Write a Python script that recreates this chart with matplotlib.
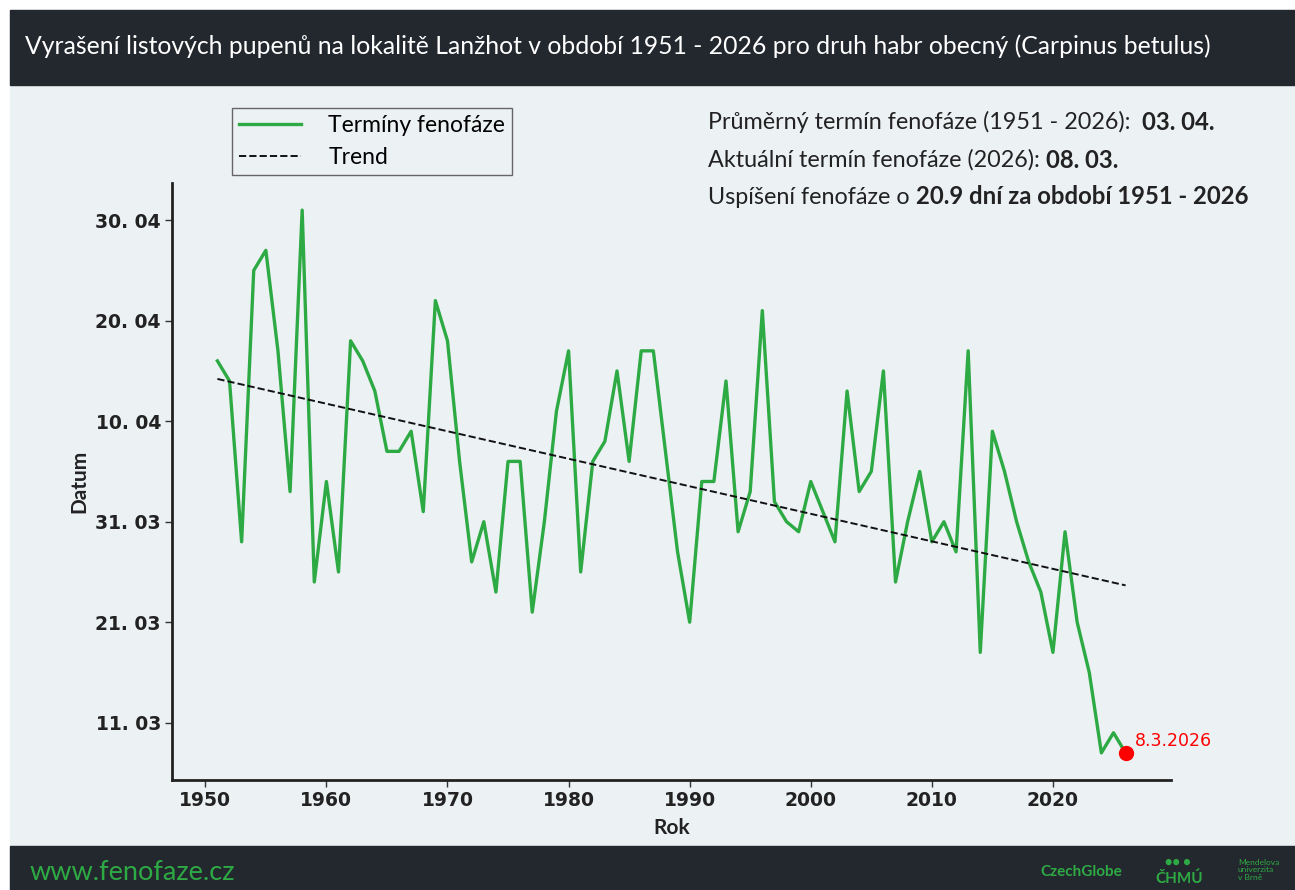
import matplotlib.pyplot as plt
import matplotlib.patches as patches
import numpy as np

plt.rcParams['font.family'] = ['Lato', 'DejaVu Sans']

# den v roce (nepřestupný rok) pro termín vyrašení
roky = list(range(1951, 2027))
dny = [106, 104, 88, 115, 117, 107, 93, 121, 84, 94,
       85, 108, 106, 103, 97, 97, 99, 91, 112, 108,
       96, 86, 90, 83, 96, 96, 81, 90, 101, 107,
       85, 96, 98, 105, 96, 107, 107, 97, 87, 80,
       94, 94, 104, 89, 93, 111, 92, 90, 89, 94,
       91, 88, 103, 93, 95, 105, 84, 90, 95, 88,
       90, 87, 107, 77, 99, 95, 90, 86, 83, 77,
       89, 80, 75, 67, 69, 67]
ytick_dny = [70, 80, 90, 100, 110, 120]
ytick_labels = ['11. 03', '21. 03', '31. 03', '10. 04', '20. 04', '30. 04']
xticks = [1950, 1960, 1970, 1980, 1990, 2000, 2010, 2020]

prumer = '03. 04.'
aktualni = '08. 03.'
posun = '20.9'
posledni_label = '8.3.2026'

bg = '#ecf1f4'
dark = '#23272e'
green = '#2eaa44'
W, H = 1295, 890

fig = plt.figure(figsize=(W / 100, H / 100), dpi=100, facecolor='white')
fig.patches.append(patches.Rectangle((10 / W, 0), 1, 1 - 10 / H, transform=fig.transFigure,
                                     color=bg, zorder=-10))
fig.patches.append(patches.Rectangle((10 / W, 1 - 85 / H), 1, 75 / H, transform=fig.transFigure,
                                     color=dark, zorder=-5))
fig.patches.append(patches.Rectangle((10 / W, 0), 1, 44 / H, transform=fig.transFigure,
                                     color=dark, zorder=-5))

fig.text(25 / W, 1 - 46 / H,
         'Vyrašení listových pupenů na lokalitě Lanžhot v období 1951 - 2026 pro druh habr obecný (Carpinus betulus)',
         color='white', fontsize=17.8, va='center', ha='left')
fig.text(30 / W, 1 - 872 / H, 'www.fenofaze.cz', color=green, fontsize=19.5, va='center', ha='left')
fig.text(1040 / W, 1 - 872 / H, 'CzechGlobe', color=green, fontsize=11, va='center', ha='left',
         fontweight='bold')
fig.text(1155 / W, 1 - 879 / H, 'ČHMÚ', color=green, fontsize=11, va='center', ha='left',
         fontweight='bold')
fig.text(1178 / W, 1 - 862 / H, '●● ●', color=green, fontsize=9, va='center', ha='center')
fig.text(1238 / W, 1 - 870 / H, 'Mendelova\nuniverzita\nv Brně', color=green, fontsize=6,
         va='center', ha='left', linespacing=1.1)

ax = fig.add_axes([172 / W, 1 - 780 / H, (1171 - 172) / W, (780 - 183) / H])
ax.set_facecolor(bg)

ax.plot(roky, dny, color=green, lw=2.4, label='Termíny fenofáze')
k, q = np.polyfit(roky, dny, 1)
ax.plot(roky, np.polyval([k, q], roky), '--', color='#111111', lw=1.4, label='Trend')
ax.plot(roky[-1], dny[-1], 'o', color='red', ms=10, zorder=5)
ax.annotate(posledni_label, (roky[-1], dny[-1]), xytext=(7, 5), textcoords='offset points',
            color='red', fontsize=12.5, family='DejaVu Sans')

ax.set_yticks(ytick_dny)
ax.set_yticklabels(ytick_labels)
ax.set_xticks(xticks)
for lab in ax.get_xticklabels() + ax.get_yticklabels():
    lab.set_fontweight('bold')
    lab.set_fontsize(13.5)
    lab.set_family('DejaVu Sans')
    lab.set_color('#222222')
ax.tick_params(direction='out', length=5, width=1, color='#333333', pad=3)
ax.set_ylabel('Datum', fontsize=15, fontweight='bold', color='#222222', labelpad=4)
ax.set_xlabel('Rok', fontsize=15, fontweight='bold', color='#222222', labelpad=6)
for s in ['top', 'right']:
    ax.spines[s].set_visible(False)
for s in ['left', 'bottom']:
    ax.spines[s].set_linewidth(2)
    ax.spines[s].set_color('#222222')

fig.legend(loc='upper left', bbox_to_anchor=(232 / W, 1 - 108 / H), fontsize=16.5,
           frameon=True, fancybox=False, edgecolor='#666666', facecolor=bg, framealpha=1,
           handlelength=2.7, handletextpad=1.2, borderpad=0.3, labelspacing=0.5,
           borderaxespad=0)

# texty vpravo nahoře: normální + tučná část
renderer = fig.canvas.get_renderer()
radky = [('Průměrný termín fenofáze (1951 - 2026):  ', prumer, 122),
         ('Aktuální termín fenofáze (2026): ', aktualni, 160),
         ('Uspíšení fenofáze o ', posun + ' dní za období 1951 - 2026', 197)]
for norm, bold, yp in radky:
    t = fig.text(708 / W, 1 - yp / H, norm, fontsize=16.8, color='#222222', va='center', ha='left')
    bb = t.get_window_extent(renderer)
    fig.text(bb.x1 / W, 1 - yp / H, bold, fontsize=17.2, color='#222222', va='center', ha='left',
             fontweight='bold')

fig.savefig('out.png', dpi=100, facecolor=fig.get_facecolor())
